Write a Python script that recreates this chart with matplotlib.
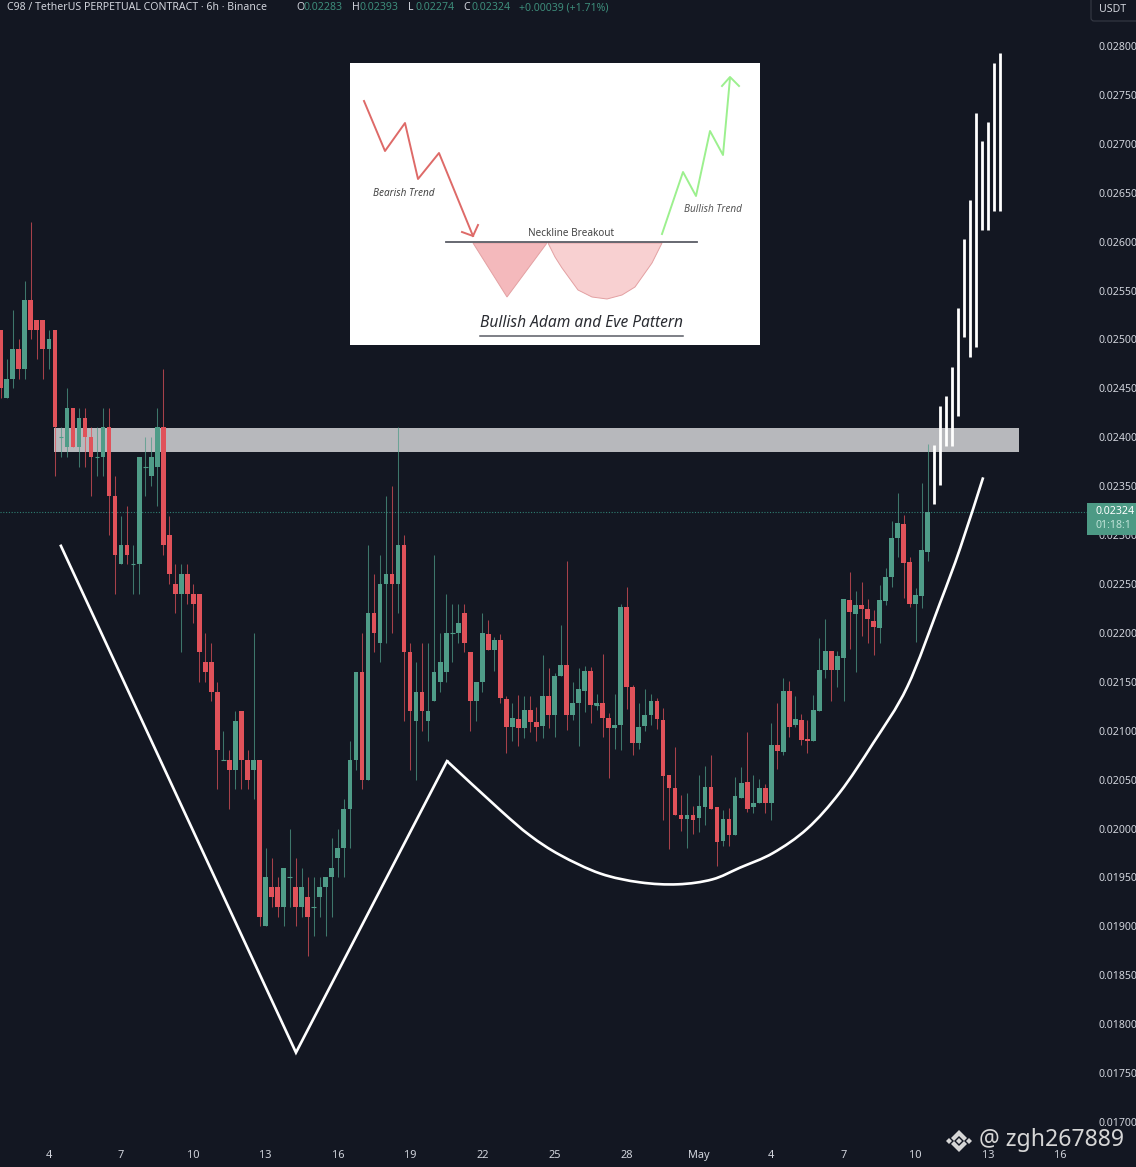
import matplotlib
matplotlib.use("Agg")
import matplotlib.pyplot as plt
import numpy as np
from matplotlib.path import Path
from matplotlib.patches import PathPatch, Polygon, Rectangle, FancyBboxPatch

W, H = 1136, 1167
UNIT = 1e-4  # series below are in units of 0.0001 USDT

opens = [251,244,246,249,247,254,252,252,249,251,240,239,243,239,242,240,238,238,241,234,
 227,229,227,227,237,236,237,241,230,225,224,226,224,224,217,217,214,207,207,206,
 212,207,206,207,190,194,194,192,195,194,192,193,192,193,194,195,197,198,202,207,
 216,205,222,219,225,226,225,229,218,211,214,211,213,215,216,220,220,222,218,213,
 215,219.9,218.3,219.3,213.2,210.4,211.2,210.3,212.1,210.9,210.5,213.6,211.6,215.6,216.7,211.6,212.8,214.1,216.1,212.6,
 212.8,211.3,210.3,210.6,222.6,214.5,208.7,210.5,211.6,213.0,211.1,205.5,204.1,201.4,201.0,201.4,201.1,202.2,204.2,202.2,
 198.7,201.0,199.3,203.1,204.8,202.2,202.6,204.1,202.6,208.5,207.8,214.1,210.6,211.1,209.2,208.9,212.0,216.2,218.2,216.2,
 217.4,223.4,221.9,222.9,222.4,221.2,220.5,223.3,225.7,229.7,231.1,227.3,223.0,223.8,228.3]
highs = [251,248,253,250,256,262,252,252,251,251,241,245,243,243,243,241,241,243,243,236,
 232,233,229,238,240,240,243,247,232,227,227,227,225,224,220,219,215,210,208,212,
 212,208,220,207,198,197,195,196,200,197,196,195,195,195,195,199,200,203,209,216,
 220,229,226,228,234,235,241,230,219,217,219,219,228,220,224,223,223,223,218,215,
 222,221.3,219.6,219.9,213.6,212.8,213.7,213.6,213.6,212.4,217.7,216.4,215.9,220.8,227.4,215.0,216.4,216.6,216.5,213.8,
 217.8,211.8,213.8,223.0,224.7,214.7,212.8,214.3,213.8,213.3,212.3,205.5,208.3,203.4,203.6,202.3,205.5,206.4,207.5,202.2,
 201.9,202.1,205.3,206.3,209.9,205.5,205.1,204.6,210.8,212.8,215.4,215.1,213.6,211.7,211.1,213.7,219.5,221.4,218.2,218.2,
 223.5,226.2,224.3,225.2,223.5,222.3,224.9,226.6,231.4,234.3,232.1,227.8,224.6,235.3,239.3]
lows = [244,244,245,246,246,250,248,246,247,236,238,238,239,237,237,234,236,236,230,224,
 227,227,224,224,234,235,233,228,225,222,218,223,221,215,215,213,204,207,202,204,
 204,204,203,190,190,192,191,190,192,190,191,187,189,191,189,191,195,195,198,206,
 204,205,218,217,219,220,222,211,206,205,210,209,213,214,215,217,219,218,210,211,
 214,218.3,216.1,212.8,207.7,209.0,208.4,209.3,209.9,209.0,209.3,210.3,209.4,215.6,210.1,211.1,208.4,211.9,210.8,212.1,
 209.4,205.2,208.1,208.0,212.2,207.5,208.1,210.0,210.6,210.2,200.9,197.9,201.4,199.7,198.0,199.4,199.6,200.4,202.0,196.2,
 198.2,198.2,199.3,203.1,201.7,201.6,202.6,201.6,200.9,206.1,207.5,209.4,210.4,208.5,207.7,208.9,212.0,215.4,213.0,214.5,
 213.0,218.4,216.0,219.7,219.0,217.7,219.0,222.9,224.7,227.8,223.6,222.6,219.1,222.5,227.4]
closes = [245,246,249,247,254,251,251,249,250,241,240,243,239,242,240,238,238,241,234,228,
 229,228,227,238,237,238,241,229,226,224,226,224,223,218,216,214,208,207,206,211,
 207,205,207,191,195,193,192,196,195,192,194,191,192,194,195,196,198,202,207,216,
 205,222,220,225,226,225,229,218,212,214,212,212,216,217,220,220,221,219,213,215,
 220,218.3,219.3,213.3,210.4,211.3,210.3,212.1,210.9,210.4,213.6,211.6,215.6,216.7,211.6,212.8,214.3,216.1,212.6,212.8,
 211.3,210.3,210.6,222.6,214.5,208.7,210.4,211.6,213.0,211.2,205.4,204.1,201.4,201.0,201.4,200.9,202.3,204.2,202.0,198.6,
 201.0,199.3,203.3,204.7,202.0,202.6,204.1,202.6,208.5,207.9,214.1,210.4,211.2,209.1,208.9,212.1,216.2,218.2,216.2,217.6,
 223.5,222.1,222.9,222.4,221.4,220.6,223.4,225.7,229.7,231.2,227.1,223.0,223.9,228.5,232.4]

proj_highs = [239.2,243.2,244.2,247.2,253.2,260.3,264.3,273.2,270.3,272.2,278.3,279.3]
proj_lows = [233.2,235.1,239.1,239.1,242.2,250.2,248.2,249.2,261.2,261.2,263.1,263.1]

v_x = [10.0, 49.05, 74.14]
v_y = [228.9, 177.1, 206.9]
bowl_x = [74.14,82.95,87.9,92.9,99.6,106.2,112.5,118.2,122.8,128.3,134.0,139.4,144.9,150.6,156.0,159.4,163.2]
bowl_y = [206.9,201.9,199.3,197.3,195.4,194.5,194.3,194.8,196.0,197.5,200.0,203.7,208.7,214.5,223.0,228.7,235.9]

band_start, band_end = 8.85, 169.2
band_low, band_high = 238.5, 240.95
last_price = 232.4

ytick_vals = [170 + 5 * k for k in range(23)]
xtick_labels = ["4","7","10","13","16","19","22","25","28","May","4","7","10","13","16"]
xtick_idx = [8 + 12 * k for k in range(15)]

BG = "#131722"
GREEN = "#4f9c88"
RED = "#e0525a"
TXT = "#d1d4dc"
FONT = "Noto Sans"

plt.rcParams["font.family"] = [FONT, "DejaVu Sans"]
fig = plt.figure(figsize=(W / 100, H / 100), dpi=100, facecolor=BG)

AX_R, AX_B = 1087, 1140
ax = fig.add_axes([0, 1 - AX_B / H, AX_R / W, AX_B / H], facecolor=BG)
px_per_i = 6.02
ax.set_xlim(-0.7 / px_per_i, (AX_R - 0.7) / px_per_i)
s = 0.011 / 1076
ax.set_ylim(0.028 - (AX_B - 46) * s, 0.028 + 46 * s)
for sp in ax.spines.values():
    sp.set_visible(False)

o, h, l, c = [np.array(a) * UNIT for a in (opens, highs, lows, closes)]
idx = np.arange(len(o))
is_up = c >= o
cols = np.where(is_up, GREEN, RED)

ax.add_patch(Rectangle((band_start, band_low * UNIT), band_end - band_start,
                       (band_high - band_low) * UNIT, facecolor="#b7b8bc", edgecolor="none", zorder=1))
ax.axhline(last_price * UNIT, color="#2f7f72", lw=0.8, ls=(0, (1, 1.5)), zorder=1.5)
ax.vlines(idx, l, h, colors=cols, lw=0.75, alpha=0.72, zorder=2)
ax.bar(idx, np.abs(c - o), bottom=np.minimum(o, c), width=0.78, color=cols, linewidth=0, zorder=3)
doji = np.abs(c - o) < 0.25 * UNIT
ax.hlines(o[doji], idx[doji] - 0.39, idx[doji] + 0.39, colors=cols[doji], lw=0.8, zorder=3)

ax.vlines(len(o) + np.arange(len(proj_highs)), np.array(proj_lows) * UNIT, np.array(proj_highs) * UNIT,
          colors="white", lw=2.0, zorder=6)
ax.plot(v_x, np.array(v_y) * UNIT, color="white", lw=1.9, zorder=5, solid_joinstyle="miter")

pts = np.column_stack([bowl_x, np.array(bowl_y) * UNIT])
verts = [pts[0]]
codes = [Path.MOVETO]
for k in range(len(pts) - 1):
    p0 = pts[max(k - 1, 0)]
    p1, p2 = pts[k], pts[k + 1]
    p3 = pts[min(k + 2, len(pts) - 1)]
    verts += [p1 + (p2 - p0) / 6, p2 - (p3 - p1) / 6, p2]
    codes += [Path.CURVE4] * 3
ax.add_patch(PathPatch(Path(verts, codes), fill=False, edgecolor="white", lw=1.9, zorder=5))

ax.yaxis.tick_right()
ax.set_yticks(np.array(ytick_vals) * UNIT)
ax.set_yticklabels([f"{v * UNIT:.5f}" for v in ytick_vals], fontsize=7.6, color=TXT, fontweight="semibold", ha="left")
ax.set_xticks(xtick_idx)
ax.set_xticklabels(xtick_labels, fontsize=7.9, color=TXT, fontweight="semibold")
ax.tick_params(axis="y", length=0, pad=8)
ax.tick_params(axis="x", length=0, pad=7)

# pixel overlay for chrome
ov = fig.add_axes([0, 0, 1, 1], facecolor="none", zorder=10)
ov.set_xlim(0, W)
ov.set_ylim(H, 0)
ov.axis("off")

ov.add_patch(FancyBboxPatch((1091, -12), 60, 33, boxstyle="round,pad=0,rounding_size=3", facecolor=BG,
                            edgecolor="#363a45", lw=0.8))
ov.text(1113, 10, "USDT", fontsize=7.6, color=TXT, ha="center", va="center")
ov.add_patch(Rectangle((1087, 503), 50, 32, facecolor="#4d9a85", edgecolor="none"))
ov.text(1095, 512, "0.02324", fontsize=7.6, color="white", fontweight="semibold", va="center")
ov.text(1095, 526, "01:18:1", fontsize=7.6, color="#bfe3d8", va="center")

ov.text(7, 8, "C98 / TetherUS PERPETUAL CONTRACT · 6h · Binance", fontsize=7.6, color=TXT, va="center", fontweight="medium")
for x, lab, val in [(296, "O", "0.02283"), (352, "H", "0.02393"), (408, "L", "0.02274"), (463, "C", "0.02324")]:
    ov.text(x, 8, lab, fontsize=7.6, color=TXT, va="center", fontweight="medium")
    ov.text(x + 8, 8, val, fontsize=7.6, color="#3d8c7a", va="center")
ov.text(519, 8, "+0.00039 (+1.71%)", fontsize=7.6, color="#3d8c7a", va="center")

# inset schematic
ov.add_patch(Rectangle((350, 63), 410, 282, facecolor="white", edgecolor="none", zorder=1))
red_zig = [(364,101),(385,151),(405,123),(418,179),(439,153),(473,236)]
red_head = [(462,232),(473,236),(478,225)]
grn_zig = [(662,234),(683,172),(696,196),(710,131),(723,155),(730,78)]
grn_head = [(722,86),(730,77),(739,86)]
left_v = [(473,243),(507,297),(547,243)]
right_u = [(548,243),(555,257),(562,268),(578,290),(592,297),(607,299),(622,295),(635,287),(652,263),(662,243)]
for poly, fc in [(left_v, "#f4b9bc"), (right_u, "#f8d0d1")]:
    ov.add_patch(Polygon(poly, closed=True, facecolor=fc, edgecolor="#e3a0a2", lw=0.7, zorder=2))
for seg, col in [(red_zig, "#de6a68"), (red_head, "#de6a68"), (grn_zig, "#9cf08e"), (grn_head, "#9cf08e")]:
    xs, ys = zip(*seg)
    ov.plot(xs, ys, color=col, lw=1.4, zorder=3)
ov.plot([446, 697], [242, 242], color="#5a5d66", lw=1.3, zorder=3)
ov.plot([480, 683], [336, 336], color="#5a5d66", lw=1.1, zorder=3)
ov.text(404, 193, "Bearish Trend", fontsize=7.2, style="italic", fontweight="bold", color="#444", ha="center", va="center", zorder=4)
ov.text(713, 210, "Bullish Trend", fontsize=7.2, style="italic", fontweight="bold", color="#555", ha="center", va="center", zorder=4)
ov.text(571, 233, "Neckline Breakout", fontsize=7.2, fontweight="bold", color="#444", ha="center", va="center", zorder=4)
ov.text(582, 323, "Bullish Adam and Eve Pattern", fontsize=11.2, style="italic", fontweight="bold", color="#2b2d33", ha="center", va="center", zorder=4)

# watermark
cx, cy = 959, 1141
wm = "#d6d6d6"
for poly in [
    [(cx-8,cy-3),(cx,cy-11),(cx+8,cy-3),(cx+5,cy),(cx,cy-5),(cx-5,cy)],
    [(cx-8,cy+3),(cx,cy+11),(cx+8,cy+3),(cx+5,cy),(cx,cy+5),(cx-5,cy)],
    [(cx-3,cy),(cx,cy-3),(cx+3,cy),(cx,cy+3)],
    [(cx-13,cy),(cx-10,cy-3),(cx-7,cy),(cx-10,cy+3)],
    [(cx+13,cy),(cx+10,cy-3),(cx+7,cy),(cx+10,cy+3)],
]:
    ov.add_patch(Polygon(poly, closed=True, facecolor=wm, edgecolor="none"))
ov.text(979, 1140, "@ zgh267889", fontsize=16.6, color=wm, va="center", ha="left")

fig.savefig("out.png", dpi=100, facecolor=BG)
